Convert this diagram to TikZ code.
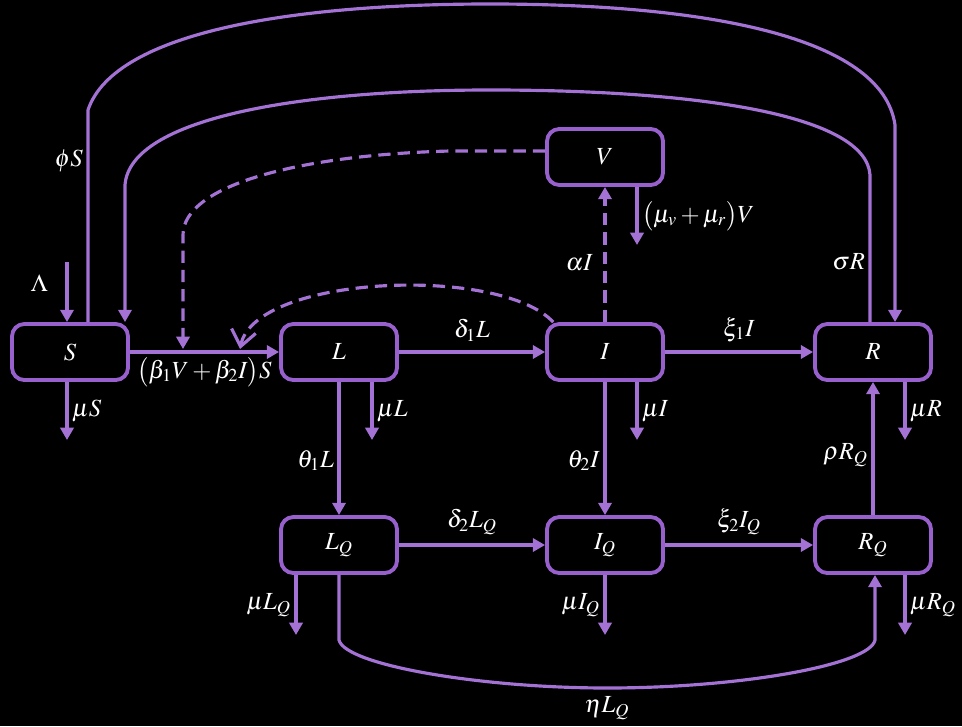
\documentclass[tikz,border=0pt]{standalone}
\usepackage{amsmath,amssymb}
\usepackage{mathptmx}
\usepackage{xcolor}
\usepackage{tikz}
\usetikzlibrary{arrows.meta}
\definecolor{flowpurple}{RGB}{163,114,212}
\definecolor{boxpurple}{RGB}{152,96,205}

\begin{document}
\begin{tikzpicture}[x=0.02cm,y=-0.02cm,font=\fontsize{14}{16}\selectfont,
  compartment/.style={draw=boxpurple,line width=2.2pt,rounded corners=7pt,
    minimum width=2.32cm,minimum height=1.12cm,inner sep=0pt,text=white},
  flow/.style={draw=flowpurple,line width=1.8pt,-{Triangle[length=7pt,width=7.5pt]}},
  feedback/.style={flow,dash pattern=on 7pt off 4pt},
  rate/.style={text=white,inner sep=2pt}]
  \useasboundingbox (0,0) rectangle (962,726);
  \fill[black] (0,0) rectangle (962,726);
  % compartments
  \node[compartment] (S) at (70,352) {$S$};
  \node[compartment] (L) at (339,352) {$L$};
  \node[compartment] (I) at (605,352) {$I$};
  \node[compartment] (R) at (873,352) {$R$};
  \node[compartment] (V) at (605,157) {$V$};
  \node[compartment] (LQ) at (339,545) {$L_Q$};
  \node[compartment] (IQ) at (605,545) {$I_Q$};
  \node[compartment] (RQ) at (873,545) {$R_Q$};
  % main flows
  \draw[flow] (S) -- (L) node[rate,midway,below] {$\bigl(\beta_1V+\beta_2I\bigr)S$};
  \draw[flow] (L) -- (I) node[rate,midway,above,yshift=3pt] {$\delta_1L$};
  \draw[flow] (I) -- (R) node[rate,midway,above,yshift=3pt] {$\xi_1I$};
  \draw[flow] (LQ) -- (IQ) node[rate,midway,above,yshift=3pt] {$\delta_2L_Q$};
  \draw[flow] (IQ) -- (RQ) node[rate,midway,above,yshift=3pt] {$\xi_2I_Q$};
  \draw[flow] (L) -- (LQ) node[rate,pos=0.59,left] {$\theta_1L$};
  \draw[flow] (I) -- (IQ) node[rate,pos=0.59,left] {$\theta_2I$};
  \draw[flow] (RQ) -- (R) node[rate,pos=0.45,left] {$\rho R_Q$};
  \draw[feedback] (I) -- (V) node[rate,pos=0.44,left,xshift=-4pt] {$\alpha I$};
  % recruitment
  \coordinate (influx) at (67,262);
  \draw[flow] (influx) -- (S.north -| influx) node[rate,pos=0.35,left,xshift=-8pt] {$\Lambda$};
  % outflows
  \foreach \src/\px/\py/\lab/\side in {S/67/440/{\mu S}/right,L/372/440/{\mu L}/right,
      I/637/440/{\mu I}/right,R/905/440/{\mu R}/right,V/637/245/{\bigl(\mu_v+\mu_r\bigr)V}/right,
      LQ/296/635/{\mu L_Q}/left,IQ/605/635/{\mu I_Q}/left,RQ/905/635/{\mu R_Q}/right} {
    \coordinate (out\src) at (\px,\py);
    \draw[flow] (\src.south -| out\src) -- (out\src) node[rate,midway,\side] {$\lab$};
  }
  % long returns
  \coordinate (phiS) at (88,110);
  \coordinate (phiR) at (895,125);
  \draw[flow] (S.north -| phiS) -- (phiS) node[rate,pos=0.76,left] {$\phi S$}
    .. controls (115,30) and (300,4) .. (490,4) .. controls (700,4) and (882,35) .. (phiR)
    -- (R.north -| phiR);
  \coordinate (sigR) at (870,175);
  \coordinate (sigS) at (125,185);
  \draw[flow] (R.north -| sigR) -- (sigR) node[rate,pos=0.41,left] {$\sigma R$}
    .. controls (866,115) and (700,90) .. (490,90) .. controls (300,90) and (130,118) .. (sigS)
    -- (S.north -| sigS);
  \coordinate (etaL) at (339,640);
  \coordinate (etaR) at (875,640);
  \draw[flow] (LQ.south -| etaL) -- (etaL) .. controls (345,665) and (480,688) .. (607,688)
    node[rate,below,yshift=-2pt] {$\eta L_Q$}
    .. controls (740,688) and (870,665) .. (etaR) -- (RQ.south -| etaR);
  % dashed feedbacks
  \coordinate (vaccS) at (450,151);
  \coordinate (vacc) at (183,349);
  \draw[feedback] (V.west |- vaccS) -- (vaccS) .. controls (300,155) and (183,185) .. (183,235) -- (vacc);
  \coordinate (reinf) at (240,349);
  \draw[feedback,-{Straight Barb[length=9pt,width=14pt]}] (I.150) .. controls (500,265) and (255,275) .. (reinf);
\end{tikzpicture}
\end{document}
